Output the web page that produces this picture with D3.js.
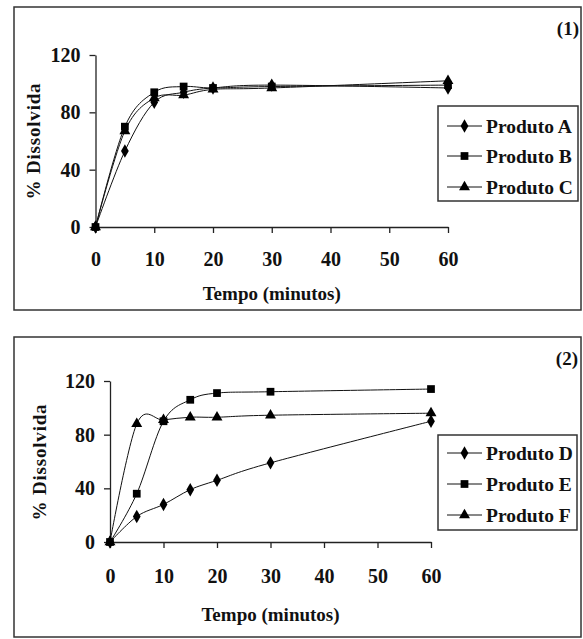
<!DOCTYPE html>
<html><head><meta charset="utf-8">
<script src="https://cdn.jsdelivr.net/npm/d3@7"></script>
<style>
html,body{margin:0;padding:0;background:#fff;}
svg text{font-family:"Liberation Serif","DejaVu Serif",serif;font-weight:bold;fill:#111;}
</style></head>
<body><svg id="c" width="583" height="639"></svg>
<script>
// ---- data ----
const times = [0, 5, 10, 15, 20, 30, 60];
const xTicks = [0, 10, 20, 30, 40, 50, 60];
const yTicks = [0, 40, 80, 120];
const seriesNames1 = ["Produto A", "Produto B", "Produto C"];
const produtoA = [0, 53, 87, 94, 97, 99, 97];
const produtoB = [0, 70, 94, 98, 97, 98, 99];
const produtoC = [0, 67, 90, 92, 96, 97, 102];
const seriesNames2 = ["Produto D", "Produto E", "Produto F"];
const produtoD = [0, 19, 28, 39, 46, 59, 90];
const produtoE = [0, 36, 90, 106, 111, 112, 114];
const produtoF = [0, 88, 91, 93, 93, 94.5, 96];
const markerTypes = ["diamond", "square", "triangle"];
const panelLabels = ["(1)", "(2)"];
const xTitle = "Tempo (minutos)";
const yTitle = "% Dissolvida";

// ---- layout ----
const panels = [
  {frame:[14,7,581,310], x:[95.5,448], y:[227,55], ylab:[33,141], xlabY:293, leg:[438,106,578,201], rows:[126,156,187], lab:[579,28], xlY:32,
   names:seriesNames1, data:[produtoA, produtoB, produtoC], tag:panelLabels[0]},
  {frame:[14,337,581,637], x:[110,431], y:[542,381], ylab:[39,462], xlabY:614, leg:[438,435,577,530], rows:[453,484,515], lab:[578,358], xlY:34,
   names:seriesNames2, data:[produtoD, produtoE, produtoF], tag:panelLabels[1]}
];

const FONT = '"Liberation Serif","DejaVu Serif",serif';
const svg = d3.select("#c");
const sym = {
  diamond: d3.symbol().type(d3.symbolDiamond).size(52),
  square: d3.symbol().type(d3.symbolSquare).size(60),
  triangle: d3.symbol().type(d3.symbolTriangle).size(52)
};

panels.forEach(p => {
  const g = svg.append("g").attr("font-family", FONT);
  g.append("rect").attr("x", p.frame[0]).attr("y", p.frame[1])
    .attr("width", p.frame[2]-p.frame[0]).attr("height", p.frame[3]-p.frame[1])
    .attr("fill", "none").attr("stroke", "#333").attr("stroke-width", 1.5);

  const x = d3.scaleLinear().domain([0, 60]).range(p.x);
  const y = d3.scaleLinear().domain([0, 120]).range(p.y);

  const ax = g.append("g").attr("transform", `translate(0,${p.y[0]})`)
    .call(d3.axisBottom(x).tickValues(xTicks).tickSize(6).tickSizeOuter(0));
  ax.selectAll("text").attr("y", p.xlY).attr("dy", "0.35em");
  const ay = g.append("g").attr("transform", `translate(${p.x[0]},0)`)
    .call(d3.axisLeft(y).tickValues(yTicks).tickSize(6).tickSizeOuter(0).tickPadding(9));
  [ax, ay].forEach(a => {
    a.attr("font-family", FONT).attr("font-size", 20);
    a.select(".domain").attr("stroke", "#222").attr("stroke-width", 1.3);
    a.selectAll(".tick line").attr("stroke", "#222").attr("stroke-width", 1.3);
    a.selectAll("text").attr("font-size", 20).attr("font-weight", "bold").attr("fill", "#111");
  });

  const line = d3.line().x((d, i) => x(times[i])).y(d => y(d)).curve(d3.curveCatmullRom.alpha(0));
  p.data.forEach((vals, si) => {
    g.append("path").attr("d", line(vals)).attr("fill", "none").attr("stroke", "#111").attr("stroke-width", 1);
  });
  p.data.forEach((vals, si) => {
    g.selectAll(null).data(vals).enter().append("path")
      .attr("d", sym[markerTypes[si]])
      .attr("transform", (d, i) => `translate(${x(times[i])},${y(d)})`)
      .attr("fill", "#000");
  });

  g.append("text").attr("x", p.ylab[0]).attr("y", p.ylab[1]).attr("font-size", 19)
    .attr("text-anchor", "middle").attr("dy", "0.35em").attr("letter-spacing", 0.8)
    .attr("transform", `rotate(-90,${p.ylab[0]},${p.ylab[1]})`).text(yTitle);
  g.append("text").attr("x", (p.x[0]+p.x[1])/2).attr("y", p.xlabY).attr("font-size", 19)
    .attr("text-anchor", "middle").attr("dy", "0.35em").text(xTitle);
  g.append("text").attr("x", p.lab[0]).attr("y", p.lab[1]).attr("font-size", 19)
    .attr("text-anchor", "end").attr("dy", "0.35em").text(p.tag);

  const L = p.leg;
  g.append("rect").attr("x", L[0]).attr("y", L[1]).attr("width", L[2]-L[0]).attr("height", L[3]-L[1])
    .attr("fill", "#fff").attr("stroke", "#333").attr("stroke-width", 1.5);
  p.names.forEach((n, i) => {
    const ry = p.rows[i];
    g.append("line").attr("x1", L[0]+9).attr("x2", L[0]+44).attr("y1", ry).attr("y2", ry)
      .attr("stroke", "#111").attr("stroke-width", 1);
    g.append("path").attr("d", sym[markerTypes[i]]).attr("transform", `translate(${L[0]+26.5},${ry})`).attr("fill", "#000");
    g.append("text").attr("x", L[0]+48).attr("y", ry).attr("dy", "0.35em").attr("font-size", 19.5).text(n);
  });
});
</script></body></html>
